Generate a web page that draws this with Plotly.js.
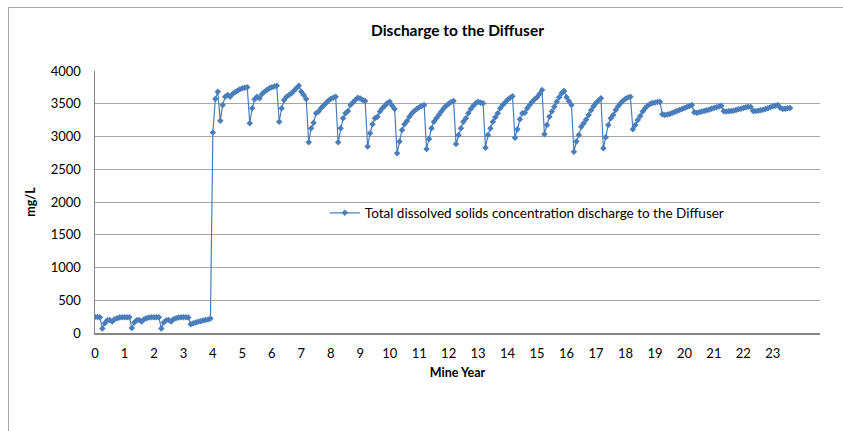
<!DOCTYPE html>
<html><head><meta charset="utf-8">
<script src="https://cdn.plot.ly/plotly-3.0.1.min.js"></script>
<style>
html,body{margin:0;padding:0;background:#fff;}
#chart{position:absolute;left:0;top:0;width:843px;height:431px;}
#frame{position:absolute;left:8px;top:7px;width:835px;height:424px;border-left:1px solid #a6a6a6;border-top:1px solid #a6a6a6;pointer-events:none;}
</style></head><body>
<div id="chart"></div>
<div id="frame"></div>
<script>
// Monthly TDS concentration (mg/L), 12 values per mine year
const year0  = [245, 245, 240, 70, 150, 195, 200, 175, 210, 225, 235, 240];
const year1  = [240, 240, 240, 75, 160, 195, 200, 175, 210, 225, 235, 240];
const year2  = [240, 240, 240, 70, 160, 195, 200, 175, 210, 225, 235, 240];
const year3  = [240, 240, 238, 135, 150, 160, 170, 180, 190, 198, 208, 220];
const year4  = [3060, 3573, 3684, 3241, 3481, 3608, 3634, 3608, 3649, 3675, 3700, 3720];
const year5  = [3737, 3745, 3752, 3201, 3431, 3569, 3608, 3584, 3649, 3684, 3710, 3735];
const year6  = [3752, 3765, 3776, 3226, 3431, 3557, 3608, 3634, 3660, 3700, 3737, 3776];
const year7  = [3684, 3634, 3573, 2911, 3126, 3211, 3355, 3380, 3430, 3470, 3508, 3545];
const year8  = [3575, 3593, 3608, 2911, 3126, 3279, 3355, 3390, 3481, 3520, 3557, 3593];
const year9  = [3580, 3557, 3543, 2846, 3050, 3187, 3279, 3303, 3380, 3430, 3470, 3508];
const year10 = [3532, 3470, 3420, 2744, 2922, 3100, 3187, 3237, 3303, 3350, 3390, 3420];
const year11 = [3445, 3465, 3481, 2810, 2960, 3126, 3227, 3279, 3330, 3380, 3430, 3470];
const year12 = [3500, 3525, 3543, 2886, 3024, 3126, 3227, 3279, 3355, 3420, 3470, 3508];
const year13 = [3532, 3517, 3508, 2830, 3024, 3126, 3227, 3294, 3355, 3431, 3480, 3520];
const year14 = [3560, 3590, 3615, 2982, 3110, 3263, 3355, 3364, 3430, 3480, 3530, 3570];
const year15 = [3600, 3650, 3711, 3035, 3176, 3303, 3380, 3456, 3532, 3600, 3660, 3695];
const year16 = [3600, 3540, 3481, 2769, 2922, 3024, 3150, 3201, 3260, 3330, 3400, 3460];
const year17 = [3510, 3550, 3584, 2820, 2988, 3176, 3279, 3330, 3406, 3460, 3508, 3545];
const year18 = [3575, 3595, 3608, 3110, 3176, 3253, 3314, 3380, 3431, 3470, 3495, 3510];
const year19 = [3520, 3528, 3532, 3340, 3329, 3335, 3345, 3360, 3375, 3390, 3405, 3420];
const year20 = [3435, 3450, 3465, 3481, 3370, 3364, 3370, 3380, 3390, 3400, 3410, 3425];
const year21 = [3435, 3445, 3458, 3470, 3385, 3380, 3385, 3390, 3395, 3405, 3415, 3425];
const year22 = [3435, 3445, 3455, 3450, 3390, 3390, 3395, 3400, 3410, 3420, 3430, 3445];
const year23 = [3460, 3470, 3481, 3440, 3420, 3425, 3430, 3435];

const yearTicks = [0,1,2,3,4,5,6,7,8,9,10,11,12,13,14,15,16,17,18,19,20,21,22,23];
const seriesName = "Total dissolved solids concentration discharge to the Diffuser";

const years = [year0,year1,year2,year3,year4,year5,year6,year7,year8,year9,year10,year11,
               year12,year13,year14,year15,year16,year17,year18,year19,year20,year21,year22,year23];
const xs = [], ys = [];
years.forEach((arr, yi) => arr.forEach((v, m) => { xs.push(yi + m / 12); ys.push(v); }));

const font = "Lato, 'Open Sans', sans-serif";
const blue = "#4a7ebb";

Plotly.newPlot("chart", [{
  x: xs, y: ys, type: "scatter", mode: "lines+markers", name: seriesName,
  line: {color: blue, width: 1.2},
  marker: {symbol: "diamond", size: 5, color: blue}
}], {
  width: 843, height: 431,
  margin: {l: 95, r: 23, t: 71, b: 98},
  paper_bgcolor: "#fff", plot_bgcolor: "#fff",
  font: {family: font, size: 13, color: "#000"},
  title: {text: "<b>Discharge to the Diffuser</b>", font: {family: font, size: 15.5, color: "#000"},
          xref: "paper", x: 0.5, xanchor: "center", yref: "container", y: 0.93, yanchor: "middle"},
  xaxis: {
    range: [0, 24.6], tickmode: "array", tickvals: yearTicks, ticktext: yearTicks.map(String),
    showgrid: false, zeroline: false, showline: true, linecolor: "#868686", linewidth: 1.5,
    ticks: "", ticklabelstandoff: 8, tickfont: {family: font, size: 13},
    title: {text: "<b>Mine Year</b>", font: {family: font, size: 12.5}, standoff: 8}
  },
  yaxis: {
    range: [0, 4000], dtick: 500, tick0: 0,
    showgrid: true, gridcolor: "#a6a6a6", gridwidth: 1, zeroline: false,
    showline: true, linecolor: "#868686", linewidth: 1.5,
    ticks: "", ticklabelstandoff: 10, tickfont: {family: font, size: 13},
    title: {text: "<b>mg/L</b>", font: {family: font, size: 12.5}, standoff: 12}
  },
  showlegend: true,
  legend: {x: 0.317, y: 0.458, xanchor: "left", yanchor: "middle", bgcolor: "rgba(0,0,0,0)",
           font: {family: font, size: 13.5, color: "#000"}}
}, {displayModeBar: false, staticPlot: true});
</script>
</body></html>
